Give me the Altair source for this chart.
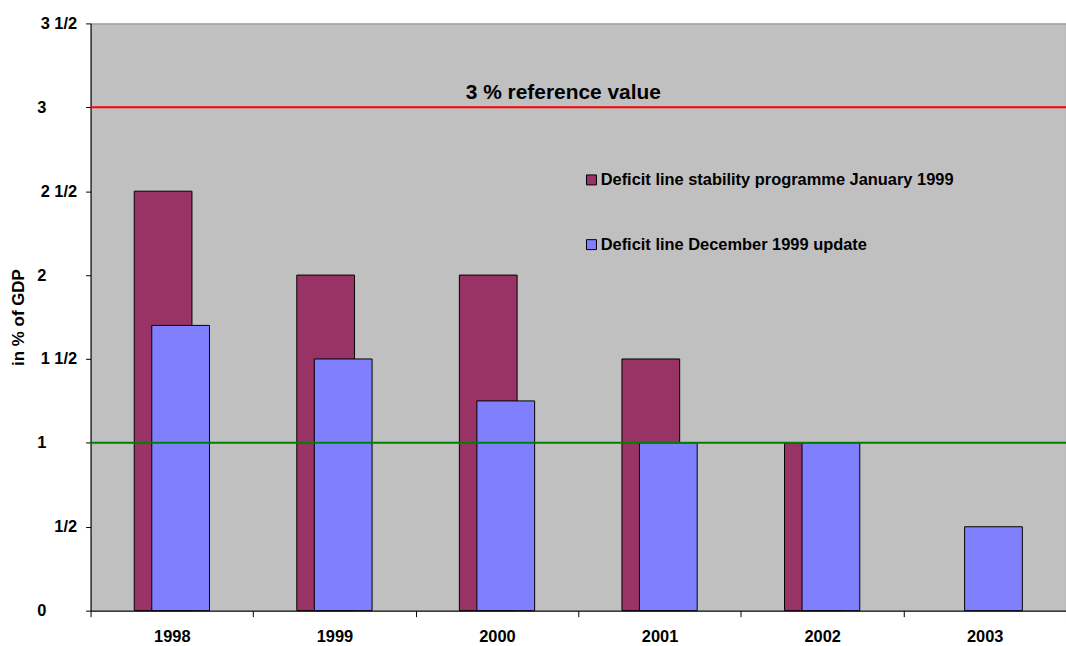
import altair as alt
import pandas as pd

# Budget deficit path, in % of GDP
years = ["1998", "1999", "2000", "2001", "2002", "2003"]
jan_1999 = [2.5, 2.0, 2.0, 1.5, 1.0, None]
dec_1999 = [1.7, 1.5, 1.25, 1.0, 1.0, 0.5]

series_names = [
    "Deficit line stability programme January 1999",
    "Deficit line December 1999 update",
]
series_colors = ["#993366", "#8080FF"]

reference_value = 3.0
reference_label = "3 % reference value"
target_value = 1.0

y_ticks = [0, 0.5, 1, 1.5, 2, 2.5, 3, 3.5]

rows = []
for name, vals in zip(series_names, [jan_1999, dec_1999]):
    for yr, v in zip(years, vals):
        if v is not None:
            rows.append({"year": yr, "series": name, "value": v})
bars_df = pd.DataFrame(rows)

FONT = "Liberation Sans"

x_enc = alt.X(
    "year:O",
    sort=years,
    scale=alt.Scale(domain=years, paddingInner=0, paddingOuter=0),
    axis=alt.Axis(
        title=None,
        labelAngle=0,
        labelFont=FONT,
        labelFontSize=16.5,
        labelFontWeight="bold",
        labelColor="black",
        labelPadding=12,
        tickBand="extent",
        tickSize=6,
        tickColor="black",
        domainColor="black",
    ),
)

# Fractions written the way the axis shows them: 0, 1/2, 1, 1 1/2, ...
label_expr = (
    "datum.value == 0 ? '0' : "
    "(datum.value % 1 == 0 ? format(datum.value, 'd') : "
    "(floor(datum.value) == 0 ? '1/2' : format(floor(datum.value), 'd') + ' 1/2'))"
)
is_fraction = "datum.value % 1 != 0"

y_enc = alt.Y(
    "value:Q",
    scale=alt.Scale(domain=[0, 3.5], nice=False, zero=True),
    axis=alt.Axis(
        title="in % of GDP",
        titleFont=FONT,
        titleFontSize=17,
        titleFontWeight="bold",
        titleColor="black",
        titlePadding=9,
        values=y_ticks,
        labelExpr=label_expr,
        labelFont=FONT,
        labelFontSize=16.5,
        labelFontWeight="bold",
        labelColor="black",
        labelAlign={"condition": {"test": is_fraction, "value": "right"}, "value": "left"},
        labelPadding={"condition": {"test": is_fraction, "value": 9}, "value": 49},
        tickSize=5,
        tickColor="black",
        domainColor="black",
        grid=False,
    ),
)

color_enc = alt.Color(
    "series:N",
    scale=alt.Scale(domain=series_names, range=series_colors),
    legend=alt.Legend(
        title=None,
        orient="none",
        legendX=495,
        legendY=149,
        padding=0,
        symbolType="square",
        symbolSize=100,
        symbolStrokeColor="black",
        symbolStrokeWidth=1,
        symbolOpacity=1,
        labelFont=FONT,
        labelFontSize=16.5,
        labelFontWeight="bold",
        labelColor="black",
        labelOffset=1,
        rowPadding=48,
        labelLimit=500,
    ),
)

base = alt.Chart(bars_df)

jan_bars = base.transform_filter(
    alt.datum.series == series_names[0]
).mark_bar(size=58, xOffset=-8.8, stroke="black", strokeWidth=1, opacity=1).encode(
    x=x_enc, y=y_enc, color=color_enc
)

dec_bars = base.transform_filter(
    alt.datum.series == series_names[1]
).mark_bar(size=58, xOffset=8.8, stroke="black", strokeWidth=1, opacity=1).encode(
    x=x_enc, y=y_enc, color=color_enc
)

ref_df = pd.DataFrame({"value": [reference_value], "label": [reference_label]})
tgt_df = pd.DataFrame({"value": [target_value]})

ref_rule = alt.Chart(ref_df).mark_rule(color="#FF0000", strokeWidth=2).encode(y="value:Q")
tgt_rule = alt.Chart(tgt_df).mark_rule(color="#008000", strokeWidth=2).encode(y="value:Q")

ref_text = alt.Chart(ref_df).mark_text(
    font=FONT,
    fontSize=21,
    fontWeight="bold",
    color="black",
    align="center",
    baseline="alphabetic",
    dy=-8,
).encode(
    y="value:Q",
    x=alt.value(475),
    text="label:N",
)

chart = (
    alt.layer(jan_bars, dec_bars, tgt_rule, ref_rule, ref_text)
    .properties(
        width=980,
        height=590,
        background="white",
        padding={"left": 91, "top": 22, "right": 0, "bottom": 34},
        autosize=alt.AutoSizeParams(type="none"),
    )
    .configure_view(fill="#C0C0C0", stroke="#808080", strokeWidth=1)
)

chart.save("out.html", embed_options={"renderer": "svg", "actions": False})
